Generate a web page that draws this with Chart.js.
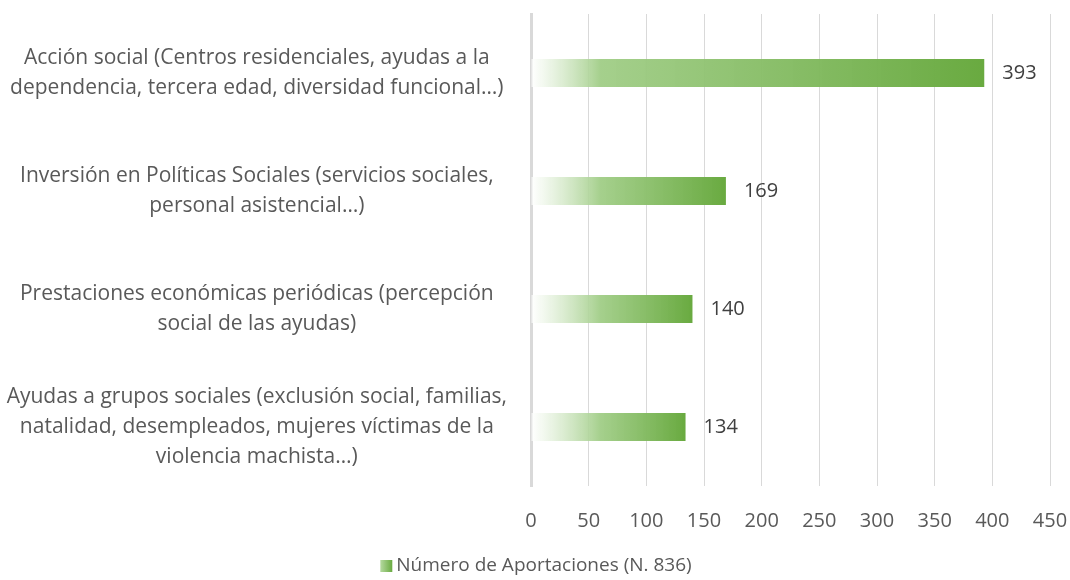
<!DOCTYPE html>
<html>
<head>
<meta charset="utf-8">
<script src="https://cdn.jsdelivr.net/npm/chart.js@4"></script>
<style>
    html, body { margin: 0; padding: 0; background: #fff; }
    #wrap { width: 1070px; height: 580px; }
</style>
</head>
<body>
<div id="wrap"><canvas id="chart"></canvas></div>
<script>
// -- DATA --
const categories = [
    ['Acción social (Centros residenciales, ayudas a la', 'dependencia, tercera edad, diversidad funcional…)'],
    ['Inversión en Políticas Sociales (servicios sociales,', 'personal asistencial…)'],
    ['Prestaciones económicas periódicas (percepción', 'social de las ayudas)'],
    ['Ayudas a grupos sociales (exclusión social, familias,', 'natalidad, desempleados, mujeres víctimas de la', 'violencia machista…)']
];
const aportaciones = [393, 169, 140, 134];
const seriesLabel = 'Número de Aportaciones (N. 836)';
const xTicks = [0, 50, 100, 150, 200, 250, 300, 350, 400, 450];

const FONT = "'Open Sans', sans-serif";
const TEXT = '#595959';

// gradient per bar: fades in from white on the left
function barFill(c) {
    const chart = c.chart;
    if (!chart.chartArea || c.type !== 'data') return '#70ad47';
    const x0 = chart.scales.x.getPixelForValue(0);
    const x1 = chart.scales.x.getPixelForValue(c.parsed.x);
    const w = Math.max(x1 - x0, 1);
    const g = chart.ctx.createLinearGradient(x0, 0, x1, 0);
    g.addColorStop(0, 'rgba(255,255,255,0.7)');
    g.addColorStop(Math.min(70 / w, 0.5), 'rgba(160,205,134,0.95)');
    g.addColorStop(1, '#69aa40');
    return g;
}

const valueLabels = {
    id: 'valueLabels',
    afterDatasetsDraw(chart) {
        const ctx = chart.ctx;
        ctx.save();
        ctx.font = '20px ' + FONT;
        ctx.fillStyle = '#404040';
        ctx.textBaseline = 'middle';
        chart.getDatasetMeta(0).data.forEach((el, i) => {
            ctx.fillText(aportaciones[i], el.x + 18, el.y);
        });
        ctx.restore();
    }
};

// legend drawn by hand so the box gap and gradient match
const bottomLegend = {
    id: 'bottomLegend',
    afterDraw(chart) {
        const ctx = chart.ctx;
        ctx.save();
        ctx.font = '19px ' + FONT;
        const tw = ctx.measureText(seriesLabel).width;
        const total = 12 + 4 + tw;
        const x = (chart.width - total) / 2 + 1;
        const y = 566;
        const g = ctx.createLinearGradient(x, 0, x + 12, 0);
        g.addColorStop(0, '#b5d9a0');
        g.addColorStop(1, '#6aab41');
        ctx.fillStyle = g;
        ctx.fillRect(x, y - 6, 12, 12);
        ctx.fillStyle = TEXT;
        ctx.textBaseline = 'middle';
        ctx.fillText(seriesLabel, x + 16, y);
        ctx.restore();
    }
};

new Chart(document.getElementById('chart'), {
    type: 'bar',
    data: {
        labels: categories,
        datasets: [{
            label: seriesLabel,
            data: aportaciones,
            backgroundColor: barFill,
            categoryPercentage: 1,
            barPercentage: 0.237
        }]
    },
    options: {
        indexAxis: 'y',
        responsive: true,
        maintainAspectRatio: false,
        animation: false,
        layout: { padding: { top: 14, right: 20, bottom: 24, left: 0 } },
        scales: {
            x: {
                min: 0, max: 450,
                afterBuildTicks: (axis) => { axis.ticks = xTicks.map(v => ({ value: v })); },
                afterFit: (axis) => { axis.paddingLeft = 0; axis.paddingRight = 0; },
                grid: { color: '#d9d9d9', lineWidth: 1, drawTicks: false },
                border: { display: false },
                ticks: { color: TEXT, font: { family: FONT, size: 20 }, padding: 23 }
            },
            y: {
                afterFit: (axis) => { axis.width = 531; axis.paddingTop = 0; axis.paddingBottom = 0; },
                grid: { display: false, drawTicks: false },
                border: { display: true, color: '#d9d9d9', width: 3 },
                ticks: {
                    color: TEXT,
                    font: { family: FONT, size: 21, lineHeight: 1.43 },
                    crossAlign: 'center',
                    padding: 24
                }
            }
        },
        plugins: {
            legend: { display: false },
            tooltip: { enabled: false }
        }
    },
    plugins: [valueLabels, bottomLegend]
});
</script>
</body>
</html>
